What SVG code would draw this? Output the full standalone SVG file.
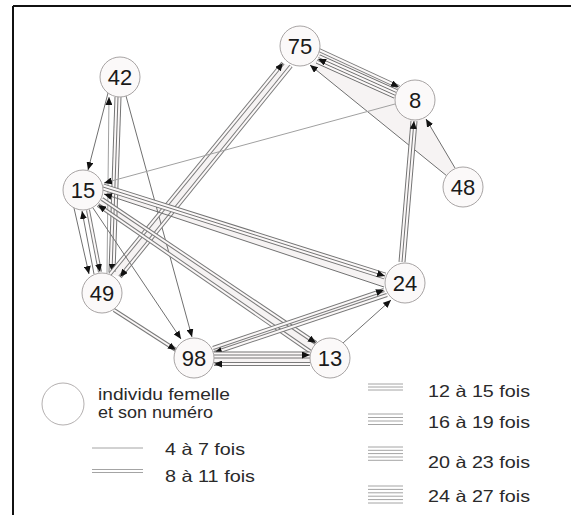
<svg xmlns="http://www.w3.org/2000/svg" xmlns:xlink="http://www.w3.org/1999/xlink" width="571" height="515" viewBox="0 0 571 515">
<style>
.node circle{fill:#fbf9f9;stroke:#a8a4a4;stroke-width:1}
.node text{font-family:"Liberation Sans",Arial,sans-serif;font-size:22px;fill:#1a1a1a;text-anchor:middle}
.lg{font-family:"Liberation Sans",Arial,sans-serif;font-size:16.5px;fill:#2a2a2a}
.band{fill:#f6f3f3;stroke:none}
use,path{fill:none}
.t{stroke:#707070;stroke-width:1}
.f{stroke:#a0a0a0;stroke-width:1}
.o4{stroke:#7a7a7a;stroke-width:4}
.o7{stroke:#747474;stroke-width:7}
.o10{stroke:#666;stroke-width:10}
.i2{stroke:#fbf8f8;stroke-width:2}
.i5{stroke:#fbf8f8;stroke-width:5}
.i8{stroke:#fbf8f8;stroke-width:8}
.c1{stroke:#747474;stroke-width:1}
.c4{stroke:#666;stroke-width:4}
.m{stroke:none;marker-end:url(#arr)}
.ll{stroke:#a4a4a4;stroke-width:1}
</style>
<defs>
<marker id="arr" markerUnits="userSpaceOnUse" markerWidth="9" markerHeight="7" refX="8" refY="3.5" orient="auto">
<path d="M0,0 L8,3.5 L0,7 z" style="fill:#111;stroke:none"/>
</marker>
<path id="e1" d="M108,93 L88,170"/>
<path id="e2" d="M107,273 L109,97"/>
<path id="e3" d="M118,97 L112,272"/>
<path id="e4" d="M126,96 L192,337"/>
<path id="e5" d="M74,208 L89,274"/>
<path id="e6" d="M94,274 L82,211"/>
<path id="e7" d="M88,210 L100,272"/>
<path id="e8" d="M291,66 L120,277"/>
<path id="e9" d="M110,274 L283,63"/>
<path id="e10" d="M319,50 L399,87"/>
<path id="e11" d="M396,94 L318,59"/>
<path id="e12" d="M447,176 L310,65"/>
<path id="e13" d="M455,168 L426,119"/>
<path id="e14" d="M402,262 L414,121"/>
<path id="e15" d="M395,104 L104,183"/>
<path id="e16" d="M103,187 L385,276"/>
<path id="e17" d="M384,287 L104,194"/>
<path id="e18" d="M102,199 L316,343"/>
<path id="e19" d="M311,352 L98,205"/>
<path id="e20" d="M93,208 L181,339"/>
<path id="e21" d="M114,310 L176,350"/>
<path id="e22" d="M213,348 L384,290"/>
<path id="e23" d="M387,295 L214,353"/>
<path id="e24" d="M214,355 L310,355"/>
<path id="e25" d="M310,364 L214,364"/>
<path id="e26" d="M343,343 L391,300"/>
</defs>
<rect x="0" y="0" width="571" height="515" fill="#ffffff"/>
<g id="frame" stroke="#111" stroke-width="2" fill="none">
<line x1="13" y1="6" x2="571" y2="6"/>
<line x1="13" y1="6" x2="13" y2="515"/>
</g>
<g id="bands">
<polygon class="band" points="110,274 283,63 291,66 120,277"/>
<polygon class="band" points="319,50 399,87 396,94 318,59"/>
<polygon class="band" points="318,59 396,94 426,119 455,168 447,176 310,65"/>
<polygon class="band" points="214,355 310,355 310,364 214,364"/>
<polygon class="band" points="103,187 385,276 384,287 104,194"/>
<polygon class="band" points="213,348 384,290 387,295 214,353"/>
<polygon class="band" points="102,199 316,343 311,352 98,205"/>
</g>
<g id="connectors">
<use href="#e1" class="t"/><use href="#e1" class="m"/>
<use href="#e2" class="f"/><use href="#e2" class="m"/>
<use href="#e3" class="o7"/><use href="#e3" class="i5"/><use href="#e3" class="c1"/><use href="#e3" class="m"/>
<use href="#e4" class="t"/><use href="#e4" class="m"/>
<use href="#e5" class="t"/><use href="#e5" class="m"/>
<use href="#e6" class="t"/><use href="#e6" class="m"/>
<use href="#e7" class="o4"/><use href="#e7" class="i2"/><use href="#e7" class="m"/>
<use href="#e8" class="o4"/><use href="#e8" class="i2"/><use href="#e8" class="m"/>
<use href="#e9" class="o4"/><use href="#e9" class="i2"/><use href="#e9" class="m"/>
<use href="#e10" class="o4"/><use href="#e10" class="i2"/><use href="#e10" class="m"/>
<use href="#e11" class="o10"/><use href="#e11" class="i8"/><use href="#e11" class="c4"/><use href="#e11" class="i2"/><use href="#e11" class="m"/>
<use href="#e12" class="t"/><use href="#e12" class="m"/>
<use href="#e13" class="t"/><use href="#e13" class="m"/>
<use href="#e14" class="o7"/><use href="#e14" class="i5"/><use href="#e14" class="c1"/><use href="#e14" class="m"/>
<use href="#e15" class="f"/><use href="#e15" class="m"/>
<use href="#e16" class="o7"/><use href="#e16" class="i5"/><use href="#e16" class="c1"/><use href="#e16" class="m"/>
<use href="#e17" class="t"/><use href="#e17" class="m"/>
<use href="#e18" class="o4"/><use href="#e18" class="i2"/><use href="#e18" class="m"/>
<use href="#e19" class="o4"/><use href="#e19" class="i2"/><use href="#e19" class="m"/>
<use href="#e20" class="t"/><use href="#e20" class="m"/>
<use href="#e21" class="o4"/><use href="#e21" class="i2"/><use href="#e21" class="m"/>
<use href="#e22" class="o4"/><use href="#e22" class="i2"/><use href="#e22" class="m"/>
<use href="#e23" class="o4"/><use href="#e23" class="i2"/><use href="#e23" class="m"/>
<use href="#e24" class="o7"/><use href="#e24" class="i5"/><use href="#e24" class="c1"/><use href="#e24" class="m"/>
<use href="#e25" class="o4"/><use href="#e25" class="i2"/><use href="#e25" class="m"/>
<use href="#e26" class="t"/><use href="#e26" class="m"/>
</g>
<g id="node-42" class="node"><circle cx="120" cy="77" r="20"/><text x="120" y="85">42</text></g>
<g id="node-75" class="node"><circle cx="300" cy="46" r="20"/><text x="300" y="54">75</text></g>
<g id="node-8" class="node"><circle cx="415" cy="100" r="20"/><text x="415" y="108">8</text></g>
<g id="node-48" class="node"><circle cx="463" cy="187" r="20"/><text x="463" y="195">48</text></g>
<g id="node-15" class="node"><circle cx="83" cy="190" r="20"/><text x="83" y="198">15</text></g>
<g id="node-49" class="node"><circle cx="102" cy="293" r="20"/><text x="102" y="301">49</text></g>
<g id="node-24" class="node"><circle cx="405" cy="283" r="20"/><text x="405" y="291">24</text></g>
<g id="node-98" class="node"><circle cx="194" cy="358" r="20"/><text x="194" y="366">98</text></g>
<g id="node-13" class="node"><circle cx="330" cy="358" r="20"/><text x="330" y="366">13</text></g>
<g id="legend">
<circle cx="63" cy="404" r="21" fill="#ffffff" stroke="#b4b0b0" stroke-width="1"/>
<text class="lg" x="98" y="400" textLength="132" lengthAdjust="spacingAndGlyphs">individu femelle</text>
<text class="lg" x="98" y="418" textLength="115" lengthAdjust="spacingAndGlyphs">et son numéro</text>
<line class="ll" x1="92" y1="448" x2="143" y2="448"/>
<text class="lg" x="165" y="455" textLength="80" lengthAdjust="spacingAndGlyphs">4 à 7 fois</text>
<line class="ll" x1="92" y1="469.5" x2="143" y2="469.5"/>
<line class="ll" x1="92" y1="472.5" x2="143" y2="472.5"/>
<text class="lg" x="165" y="482" textLength="90" lengthAdjust="spacingAndGlyphs">8 à 11 fois</text>
<g class="ll">
<line x1="368" y1="384" x2="403" y2="384"/><line x1="368" y1="387" x2="403" y2="387"/><line x1="368" y1="390" x2="403" y2="390"/>
<line x1="368" y1="414" x2="403" y2="414"/><line x1="368" y1="417.5" x2="403" y2="417.5"/><line x1="368" y1="421" x2="403" y2="421"/><line x1="368" y1="424.5" x2="403" y2="424.5"/>
<line x1="368" y1="447" x2="403" y2="447"/><line x1="368" y1="450.3" x2="403" y2="450.3"/><line x1="368" y1="453.6" x2="403" y2="453.6"/><line x1="368" y1="457" x2="403" y2="457"/><line x1="368" y1="460.3" x2="403" y2="460.3"/>
<line x1="368" y1="486" x2="403" y2="486"/><line x1="368" y1="489.4" x2="403" y2="489.4"/><line x1="368" y1="492.8" x2="403" y2="492.8"/><line x1="368" y1="496.2" x2="403" y2="496.2"/><line x1="368" y1="499.6" x2="403" y2="499.6"/><line x1="368" y1="503" x2="403" y2="503"/>
</g>
<text class="lg" x="428" y="397" textLength="102" lengthAdjust="spacingAndGlyphs">12 à 15 fois</text>
<text class="lg" x="428" y="428" textLength="102" lengthAdjust="spacingAndGlyphs">16 à 19 fois</text>
<text class="lg" x="428" y="468" textLength="102" lengthAdjust="spacingAndGlyphs">20 à 23 fois</text>
<text class="lg" x="428" y="502" textLength="102" lengthAdjust="spacingAndGlyphs">24 à 27 fois</text>
</g>
</svg>
